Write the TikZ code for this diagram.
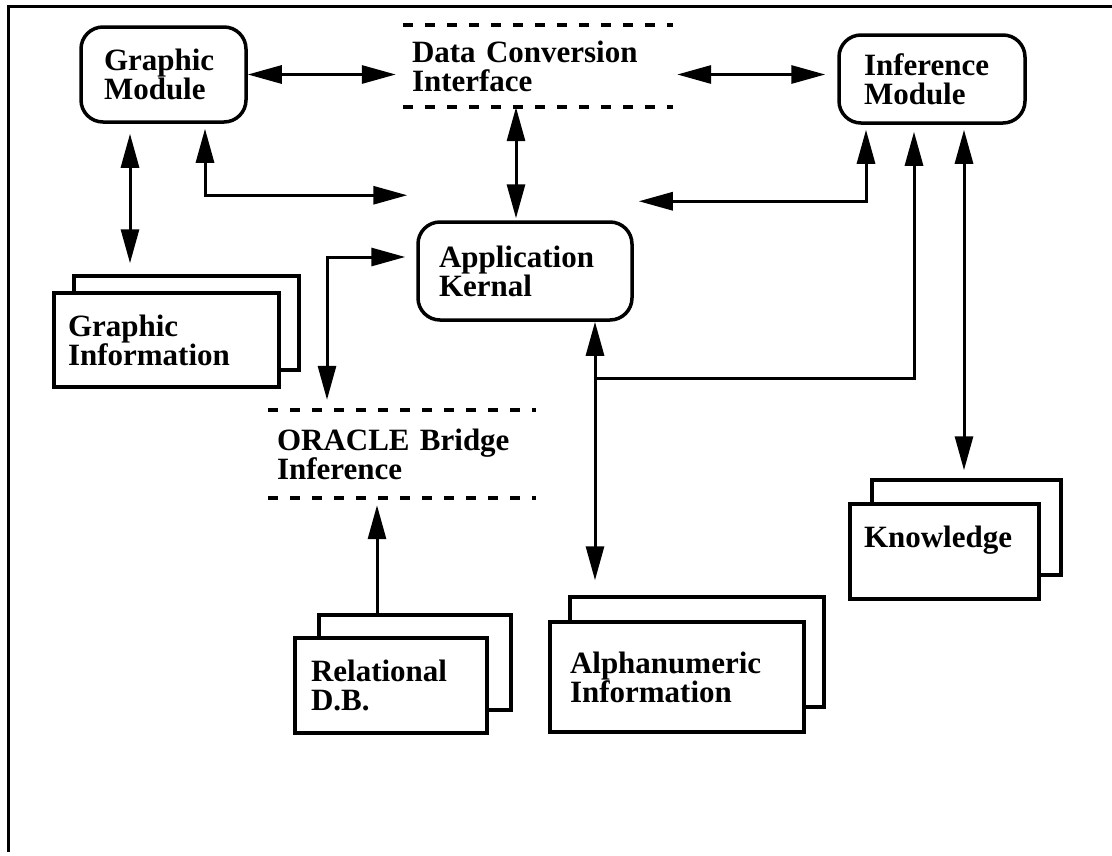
\documentclass[tikz,border=0pt]{standalone}
\usepackage{fontspec}
\setmainfont{Liberation Serif}
\usetikzlibrary{arrows.meta}

\begin{document}
\begin{tikzpicture}[x=1pt, y=-1pt,
        txt/.style={font=\fontsize{31}{29}\selectfont\bfseries, align=left, inner ysep=0pt},
        module/.style={txt, draw, rounded corners=22pt, line width=3.5pt},
        store/.style={txt, draw, fill=white, line width=3.5pt},
        storeback/.style={draw, fill=white, line width=3.5pt, inner sep=0pt},
        layer/.style={txt, inner xsep=9pt},
        dashrule/.style={line width=4pt, dash pattern=on 10pt off 12pt},
        biarrow/.style={line width=3pt, {Triangle[length=34pt,width=18pt]}-{Triangle[length=34pt,width=18pt]}},
        onearrow/.style={line width=3pt, -{Triangle[length=34pt,width=18pt]}},
        backarrow/.style={line width=3pt, {Triangle[length=34pt,width=18pt]}-}]
    \useasboundingbox (0,0) rectangle (1112,855);

    % Frame
    \draw[line width=3pt] (1112,6) -- (8,6) -- (8,852);

    % Modules
    \node[module, text width=119pt, inner xsep=23pt, minimum height=95pt]
        (gm) at (163.5,74.5) {Graphic\\Module};
    \node[module, text width=136pt, inner xsep=25pt, minimum height=88pt]
        (im) at (932,79) {Inference\\Module};
    \node[module, text width=172pt, inner xsep=21pt, minimum height=98pt]
        (ak) at (525,271) {Application\\Kernal};

    % Interfaces
    \node[layer, text width=252pt, minimum height=82pt] (dci) at (538,66) {Data Conversion\\Interface};
    \draw[dashrule] (dci.north west) -- (dci.north east);
    \draw[dashrule] (dci.south west) -- (dci.south east);

    \node[layer, text width=250pt, minimum height=88pt] (orc) at (402,454) {ORACLE Bridge\\Inference};
    \draw[dashrule] (orc.north west) -- (orc.north east);
    \draw[dashrule] (orc.south west) -- (orc.south east);

    % Stores
    \node[storeback, minimum width=225pt, minimum height=94pt] (giback) at (186.5,323) {};
    \node[store, text width=197pt, inner xsep=14pt, minimum height=94pt]
        (gi) at (166.5,340) {Graphic\\Information};

    \node[storeback, minimum width=192pt, minimum height=95pt] (rback) at (415,662.5) {};
    \node[store, text width=160pt, inner xsep=16pt, minimum height=95pt]
        (rdb) at (391,685.5) {Relational\\D.B.};

    \node[storeback, minimum width=254pt, minimum height=110pt] (alphaback) at (697,652) {};
    \node[store, text width=214pt, inner xsep=20pt, minimum height=110pt]
        (alpha) at (677,677) {Alphanumeric\\Information};

    \node[storeback, minimum width=189pt, minimum height=95pt] (kback) at (966.5,527.5) {};
    \node[store, text width=161pt, inner xsep=14pt, minimum height=95pt]
        (know) at (944.5,551.5) {Knowledge\\\mbox{}};

    \coordinate (akjoin) at (595,378);

    % Connectors
    \draw[biarrow, shorten >=7pt] (gm.east) -- (gm.east -| dci.west);
    \draw[biarrow, shorten <=4pt, shorten >=12pt] (dci.east |- gm.east) -- (im.west |- gm.east);
    \draw[biarrow, shorten >=2pt] ([xshift=-22pt]dci.south) -- ([xshift=-22pt]dci.south |- ak.north);
    \draw[biarrow, shorten <=10pt, shorten >=11pt] ([xshift=-33.5pt]gm.south) -- ([xshift=-33.5pt]gm.south |- giback.north);
    \draw[biarrow, shorten <=5pt, shorten >=9pt] ([xshift=41.5pt]gm.south) |- ([yshift=25pt]ak.north west);
    \draw[biarrow, shorten <=5pt, shorten >=5pt] ([xshift=-66pt]im.south) |- ([yshift=19pt]ak.north east);
    \draw[backarrow, shorten <=7pt] ([xshift=-18pt]im.south) |- (akjoin);
    \draw[biarrow, shorten >=15pt] (ak.south -| akjoin) -- (alphaback.north -| akjoin);
    \draw[biarrow, shorten <=5pt, shorten >=8pt] ([xshift=32pt]im.south) -- ([xshift=32pt]im.south |- kback.north);
    \draw[biarrow, shorten <=11pt, shorten >=10pt] ([yshift=14pt]ak.west) -| ([xshift=-75pt]orc.north);
    \draw[onearrow, shorten >=7pt] ([xshift=-38pt]rback.north) -- ([xshift=-38pt]rback.north |- orc.south);
\end{tikzpicture}
\end{document}
